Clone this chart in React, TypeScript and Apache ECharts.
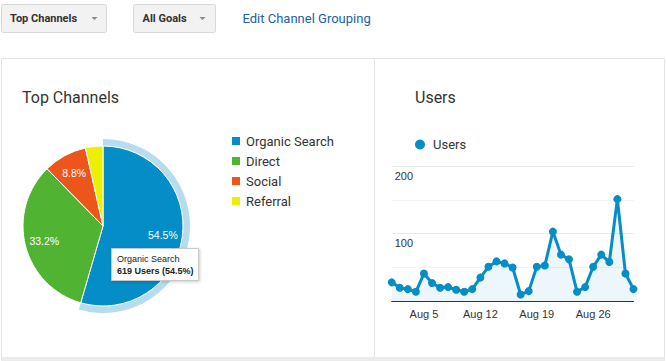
import React, { useEffect, useRef } from 'react';
import * as echarts from 'echarts';

const channels = ['Organic Search', 'Direct', 'Social', 'Referral'];
const channelUsers = [619, 377, 100, 40];
const channelColors = ['#058dc7', '#50b432', '#ed561b', '#edef00'];

const days = [
  'Aug 1', 'Aug 2', 'Aug 3', 'Aug 4', 'Aug 5', 'Aug 6', 'Aug 7', 'Aug 8', 'Aug 9', 'Aug 10',
  'Aug 11', 'Aug 12', 'Aug 13', 'Aug 14', 'Aug 15', 'Aug 16', 'Aug 17', 'Aug 18', 'Aug 19', 'Aug 20',
  'Aug 21', 'Aug 22', 'Aug 23', 'Aug 24', 'Aug 25', 'Aug 26', 'Aug 27', 'Aug 28', 'Aug 29', 'Aug 30', 'Aug 31',
];
const dailyUsers = [
  28, 20, 18, 14, 41, 27, 20, 21, 17, 14,
  18, 35, 51, 59, 56, 50, 10, 15, 51, 53,
  103, 69, 62, 14, 21, 51, 69, 58, 151, 41, 18,
];
const shownDayLabels = ['Aug 5', 'Aug 12', 'Aug 19', 'Aug 26'];
const yLabelValues = [100, 200];

const UI_FONT = 'Roboto, "Noto Sans", sans-serif';
const CHART_FONT = '"Liberation Sans", Arial, sans-serif';

export default function App() {
  const ref = useRef<HTMLDivElement>(null);

  useEffect(() => {
    document.body.style.margin = '0';
    const chart = echarts.init(ref.current!, undefined, { renderer: 'svg' });
    const total = channelUsers.reduce((a, b) => a + b, 0);
    const topPct = ((channelUsers[0] / total) * 100).toFixed(1);

    const pieData = channels.map((name, i) => ({
      name,
      value: channelUsers[i],
      itemStyle: { color: channelColors[i] },
    }));

    const option: any = {
      animation: false,
      backgroundColor: '#ffffff',
      legend: [
        {
          orient: 'vertical',
          left: 230,
          top: 134.5,
          padding: 0,
          itemWidth: 10,
          itemHeight: 10,
          itemGap: 7,
          icon: 'rect',
          selectedMode: false,
          data: channels.map((name, i) => ({ name, itemStyle: { color: channelColors[i] } })),
          textStyle: { fontSize: 13, color: '#333', fontFamily: UI_FONT },
        },
        {
          left: 415,
          top: 138,
          padding: 0,
          itemWidth: 10,
          itemHeight: 10,
          icon: 'circle',
          selectedMode: false,
          data: [{ name: 'Users', itemStyle: { color: '#058dc7' } }],
          textStyle: { fontSize: 13, color: '#333', fontFamily: UI_FONT, padding: [0, 0, 0, 3] },
        },
      ],
      grid: { left: 391.7, right: 32.5, top: 166, bottom: 59.7 },
      xAxis: {
        type: 'category',
        data: days,
        boundaryGap: false,
        axisTick: { show: false },
        axisLine: { lineStyle: { color: '#333', width: 1 } },
        splitLine: { show: false },
        axisLabel: {
          interval: (idx: number, val: string) => shownDayLabels.includes(val),
          color: '#333',
          fontSize: 11,
          fontFamily: CHART_FONT,
          margin: 7,
        },
      },
      yAxis: {
        type: 'value',
        min: 0,
        max: 200,
        interval: 100,
        axisLine: { show: false },
        axisTick: { show: false },
        minorTick: { show: false, splitNumber: 2 },
        splitLine: { lineStyle: { color: '#e8e8e8', width: 1 } },
        minorSplitLine: { show: true, lineStyle: { color: '#f3f3f3', width: 1 } },
        axisLabel: {
          inside: true,
          margin: 3,
          verticalAlign: 'top',
          padding: [4, 0, 0, 0],
          color: '#333',
          fontSize: 11,
          fontFamily: CHART_FONT,
          formatter: (v: number) => (yLabelValues.includes(v) ? String(v) : ''),
        },
      },
      series: [
        {
          type: 'pie',
          name: 'channels',
          center: [103, 226],
          radius: [0, 80],
          startAngle: 90,
          clockwise: true,
          silent: true,
          label: { show: false },
          labelLine: { show: false },
          emphasis: { disabled: true },
          itemStyle: { borderColor: '#ffffff', borderWidth: 1 },
          data: pieData,
          z: 2,
        },
        {
          type: 'pie',
          name: 'highlight',
          center: [103, 226],
          radius: [80.5, 87],
          startAngle: 90,
          clockwise: true,
          silent: true,
          label: { show: false },
          labelLine: { show: false },
          emphasis: { disabled: true },
          data: channels.map((name, i) => ({
            name,
            value: channelUsers[i],
            itemStyle: { color: i === 0 ? '#b6dcee' : 'rgba(0,0,0,0)' },
          })),
          z: 2,
        },
        {
          type: 'pie',
          name: 'labels',
          center: [103, 226],
          radius: [35, 80],
          startAngle: 90,
          clockwise: true,
          silent: true,
          labelLine: { show: false },
          emphasis: { disabled: true },
          itemStyle: { color: 'rgba(0,0,0,0)' },
          label: {
            show: true,
            position: 'inside',
            color: '#ffffff',
            fontSize: 10.5,
            fontFamily: CHART_FONT,
            formatter: (p: any) => (p.percent >= 5 ? `${p.percent.toFixed(1)}%` : ''),
          },
          data: channels.map((name, i) => ({ name, value: channelUsers[i] })),
          z: 3,
        },
        {
          type: 'line',
          name: 'Users',
          data: dailyUsers,
          symbol: 'circle',
          symbolSize: 8,
          showAllSymbol: true,
          lineStyle: { color: '#058dc7', width: 3 },
          itemStyle: { color: '#058dc7' },
          areaStyle: { color: 'rgba(5,141,199,0.1)' },
          emphasis: { disabled: true },
          silent: true,
        },
      ],
      graphic: [
        // top bar buttons
        {
          type: 'rect',
          shape: { x: 1.5, y: 4.5, width: 105, height: 28, r: 2 },
          style: { fill: '#f2f2f2', stroke: '#d8d8d8', lineWidth: 1 },
        },
        {
          type: 'text',
          x: 10,
          y: 18.5,
          style: { text: 'Top Channels', fill: '#333', font: `bold 11px ${UI_FONT}`, verticalAlign: 'middle' },
        },
        {
          type: 'polygon',
          shape: { points: [[91.5, 17], [97.5, 17], [94.5, 20]] },
          style: { fill: '#888' },
        },
        {
          type: 'rect',
          shape: { x: 133.5, y: 4.5, width: 82, height: 28, r: 2 },
          style: { fill: '#f2f2f2', stroke: '#d8d8d8', lineWidth: 1 },
        },
        {
          type: 'text',
          x: 142.5,
          y: 18.5,
          style: { text: 'All Goals', fill: '#333', font: `bold 11px ${UI_FONT}`, verticalAlign: 'middle' },
        },
        {
          type: 'polygon',
          shape: { points: [[199.5, 17], [205.5, 17], [202.5, 20]] },
          style: { fill: '#888' },
        },
        {
          type: 'text',
          x: 242.5,
          y: 18,
          style: { text: 'Edit Channel Grouping', fill: '#22609f', font: `13px ${UI_FONT}`, verticalAlign: 'middle' },
        },
        // panel frame
        {
          type: 'polyline',
          shape: { points: [[1.5, 357], [1.5, 58.5], [664.5, 58.5], [664.5, 357]] },
          style: { stroke: '#e4e4e4', lineWidth: 1, fill: 'none' },
        },
        {
          type: 'line',
          shape: { x1: 374.5, y1: 58.5, x2: 374.5, y2: 357 },
          style: { stroke: '#e4e4e4', lineWidth: 1 },
        },
        {
          type: 'rect',
          shape: { x: 1, y: 357, width: 664, height: 4 },
          style: { fill: '#ebebeb' },
        },
        // titles
        {
          type: 'text',
          x: 22,
          y: 97,
          style: { text: 'Top Channels', fill: '#333', font: `16px ${UI_FONT}`, verticalAlign: 'middle' },
        },
        {
          type: 'text',
          x: 415,
          y: 97,
          style: { text: 'Users', fill: '#333', font: `16px ${UI_FONT}`, verticalAlign: 'middle' },
        },
        // tooltip box
        {
          type: 'rect',
          z: 100,
          shape: { x: 111.5, y: 248.5, width: 87, height: 32 },
          style: {
            fill: '#ffffff',
            stroke: '#c8c8c8',
            lineWidth: 1,
            shadowBlur: 3,
            shadowOffsetX: 1,
            shadowOffsetY: 1,
            shadowColor: 'rgba(0,0,0,0.2)',
          },
        },
        {
          type: 'text',
          z: 101,
          x: 117,
          y: 258.5,
          style: { text: channels[0], fill: '#222', font: `9px ${CHART_FONT}`, verticalAlign: 'middle' },
        },
        {
          type: 'text',
          z: 101,
          x: 117,
          y: 270.5,
          style: {
            text: `${channelUsers[0]} Users (${topPct}%)`,
            fill: '#222',
            font: `bold 9px ${CHART_FONT}`,
            verticalAlign: 'middle',
          },
        },
      ],
    };

    chart.setOption(option);
    return () => chart.dispose();
  }, []);

  return (
    <div
      ref={ref}
      style={{ position: 'absolute', left: 0, top: 0, width: 666, height: 361 }}
    />
  );
}
